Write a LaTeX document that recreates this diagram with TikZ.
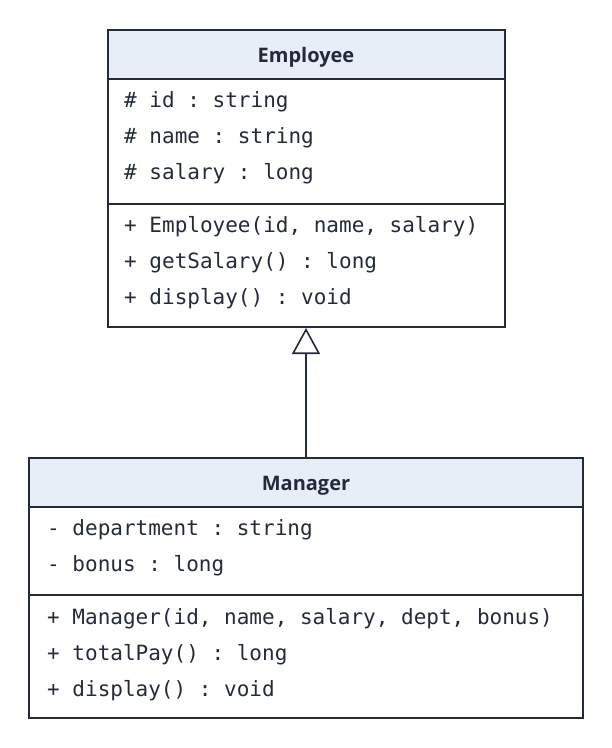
\documentclass[tikz,border=0pt]{standalone}
\usepackage{fontspec}
\setmainfont{Open Sans}
\setmonofont{DejaVu Sans Mono}
\usetikzlibrary{arrows.meta,positioning}
\definecolor{headblue}{HTML}{E8EEF7}
\definecolor{umlline}{HTML}{232B3A}
\tikzset{
  box/.style={draw=umlline,line width=1.6pt},
  head/.style={box,fill=headblue},
  title/.style={font=\fontsize{20}{24}\selectfont\bfseries,text=umlline},
  member/.style={anchor=west,font=\fontsize{21}{24}\ttfamily,text=umlline,inner sep=0pt},
  inherit/.style={draw=umlline,line width=1.6pt,-{Triangle[open,length=26pt,width=28pt]}}
}
\begin{document}
\begin{tikzpicture}[x=1pt,y=-1pt]
\useasboundingbox (0,0) rectangle (612,748);
% Employee
\draw[head] (108,30) rectangle (505,79);
\draw[box] (108,79) rectangle (505,327);
\draw[box] (108,204) -- (505,204);
\node[title] (emp) at (306,57) {Employee};
\node[member] (e1) at (124,102) {\# id : string};
\node[member] (e2) at (124,138) {\# name : string};
\node[member] (e3) at (124,174) {\# salary : long};
\node[member] (e4) at (124,227) {+ Employee(id, name, salary)};
\node[member] (e5) at (124,263) {+ getSalary() : long};
\node[member] (e6) at (124,299) {+ display() : void};
% Manager
\draw[head] (29,458) rectangle (583,507);
\draw[box] (29,507) rectangle (583,718);
\draw[box] (29,595) -- (583,595);
\node[title] (mgr) at (306,486) {Manager};
\node[member] (m1) at (47,530) {- department : string};
\node[member] (m2) at (47,566) {- bonus : long};
\node[member] (m3) at (47,619) {+ Manager(id, name, salary, dept, bonus)};
\node[member] (m4) at (47,655) {+ totalPay() : long};
\node[member] (m5) at (47,691) {+ display() : void};
% generalisation
\coordinate (mtop) at (306,458);
\coordinate (ebot) at (306,328);
\draw[inherit] (mtop) -- (ebot);
\end{tikzpicture}
\end{document}
